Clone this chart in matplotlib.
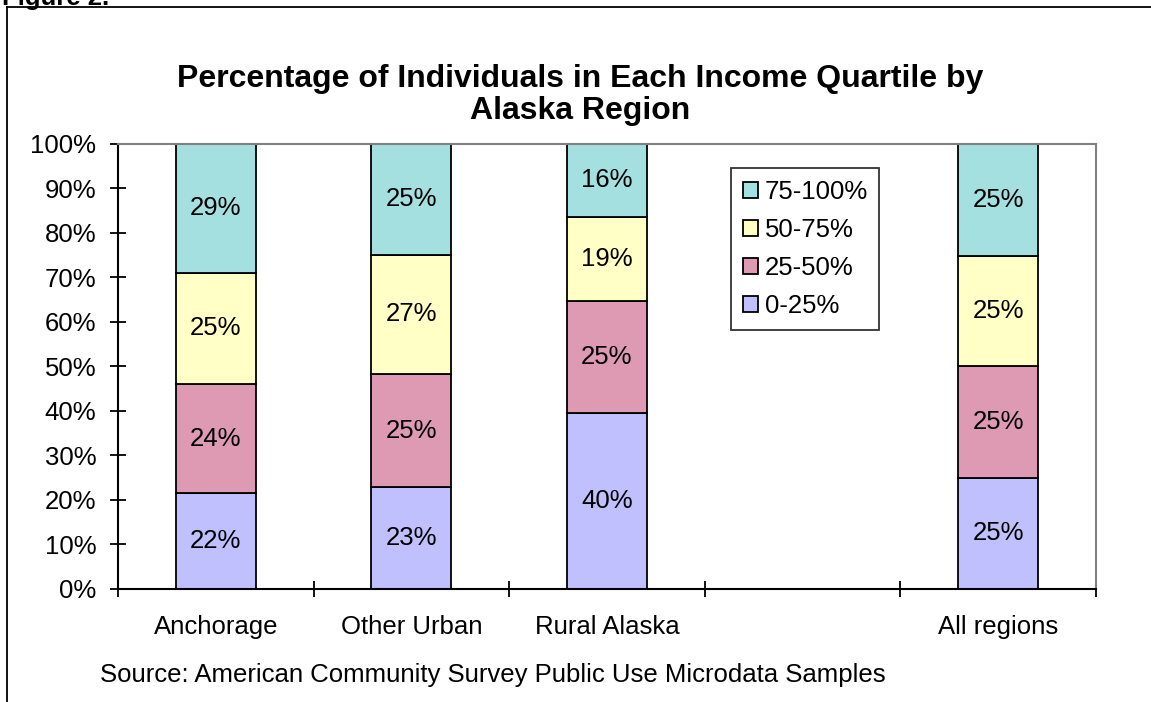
import matplotlib.pyplot as plt
from matplotlib.lines import Line2D
from matplotlib.patches import Patch

plt.rcParams['font.family'] = ['Liberation Sans', 'DejaVu Sans']

# data (percent of individuals)
regions = ['Anchorage', 'Other Urban', 'Rural Alaska', '', 'All regions']
quartiles = ['0-25%', '25-50%', '50-75%', '75-100%']
q1 = [21.6, 22.9, 39.6, None, 25.0]
q2 = [24.4, 25.4, 25.1, None, 25.2]
q3 = [25.1, 26.8, 18.9, None, 24.6]
q4 = [28.9, 24.9, 16.4, None, 25.2]
colors = ['#c0c0ff', '#dd9ab2', '#ffffc6', '#a4e0e0']

fs = 18.5

fig = plt.figure(figsize=(11.51, 7.02), dpi=100)
ax = fig.add_axes([0.1025, 0.161, 0.8497, 0.634])

series = [q1, q2, q3, q4]
bottoms = [0.0] * len(regions)
for vals, col in zip(series, colors):
    for i, v in enumerate(vals):
        if v is None:
            continue
        ax.bar(i, v, width=0.41, bottom=bottoms[i], color=col,
               edgecolor='black', linewidth=1.3)
        ax.text(i, bottoms[i] + v / 2, '%d%%' % round(v), ha='center',
                va='center', fontsize=fs)
        bottoms[i] += v

ax.set_xlim(-0.5, len(regions) - 0.5)
ax.set_ylim(0, 100)

# y axis
ax.set_yticks(range(0, 101, 10))
ax.set_yticklabels(['%d%%' % t for t in range(0, 101, 10)])
ax.tick_params(axis='y', direction='inout', length=11, width=1.3,
               labelsize=fs, pad=10)

# x axis: ticks on category boundaries, labels in the middle
ax.set_xticks([x - 0.5 for x in range(len(regions) + 1)])
ax.set_xticklabels([])
ax.tick_params(axis='x', which='major', direction='inout', length=12, width=1.3)
ax.set_xticks(range(len(regions)), minor=True)
ax.set_xticklabels(regions, minor=True)
ax.tick_params(axis='x', which='minor', length=0, labelsize=fs, pad=19)

ax.spines['left'].set_linewidth(1.5)
ax.spines['bottom'].set_linewidth(1.5)
ax.spines['top'].set_color('#808080')
ax.spines['right'].set_color('#808080')
ax.spines['top'].set_linewidth(1.5)
ax.spines['right'].set_linewidth(1.5)

handles = [Patch(facecolor=c, edgecolor='black', linewidth=1.3)
           for c in colors][::-1]
leg = ax.legend(handles, quartiles[::-1], loc='upper left',
                bbox_to_anchor=(0.627, 0.945), fontsize=fs, frameon=True,
                fancybox=False, edgecolor='black', handlelength=0.6,
                handleheight=0.6, handletextpad=0.25, labelspacing=0.55,
                borderpad=0.45, borderaxespad=0)
leg.get_frame().set_linewidth(1.3)

fig.text(0.504, 1 - 95 / 702,
         'Percentage of Individuals in Each Income Quartile by\nAlaska Region',
         ha='center', va='center', fontsize=23, fontweight='bold',
         linespacing=1.12)

fig.text(100 / 1151, 1 - 682 / 702,
         'Source: American Community Survey Public Use Microdata Samples',
         ha='left', va='baseline', fontsize=fs)

# caption at the very top, cut off by the edge as in the reference
fig.text(2 / 1151, 1 - 5 / 702, 'Figure 2.', ha='left', va='baseline',
         fontsize=fs, fontweight='bold')

# outer chart border (left and top only visible)
fig.add_artist(Line2D([7 / 1151, 7 / 1151], [0, 1 - 7 / 702],
                      transform=fig.transFigure, color='black', linewidth=1.3))
fig.add_artist(Line2D([7 / 1151, 1], [1 - 7 / 702, 1 - 7 / 702],
                      transform=fig.transFigure, color='black', linewidth=1.3))

fig.savefig('out.png', dpi=100)
